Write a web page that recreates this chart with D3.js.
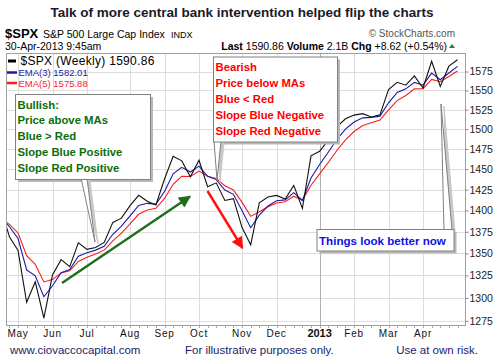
<!DOCTYPE html>
<html>
<head>
<meta charset="utf-8">
<script src="https://cdn.jsdelivr.net/npm/d3@7"></script>
<style>
  body { margin: 0; background: #fff; }
  svg { display: block; font-family: Arial, "Liberation Sans", sans-serif; }
</style>
</head>
<body>
<div id="wrapper"></div>
<script>
// weekly closes of $SPX, week ending dates
const weeks = ["2012-04-27","2012-05-04","2012-05-11","2012-05-18","2012-05-25","2012-06-01","2012-06-08","2012-06-15","2012-06-22","2012-06-29",
  "2012-07-06","2012-07-13","2012-07-20","2012-07-27","2012-08-03","2012-08-10","2012-08-17","2012-08-24","2012-08-31","2012-09-07",
  "2012-09-14","2012-09-21","2012-09-28","2012-10-05","2012-10-12","2012-10-19","2012-10-26","2012-11-02","2012-11-09","2012-11-16",
  "2012-11-23","2012-11-30","2012-12-07","2012-12-14","2012-12-21","2012-12-28","2013-01-04","2013-01-11","2013-01-18","2013-01-25",
  "2013-02-01","2013-02-08","2013-02-15","2013-02-22","2013-03-01","2013-03-08","2013-03-15","2013-03-22","2013-03-28","2013-04-05",
  "2013-04-12","2013-04-19","2013-04-26","2013-04-30"];
const close = [1403.36,1369.10,1353.39,1295.22,1317.82,1278.04,1325.66,1342.84,1335.02,1362.16,
  1354.68,1356.78,1362.66,1385.97,1390.99,1405.87,1418.16,1411.13,1406.58,1437.92,
  1465.77,1460.15,1440.67,1460.93,1428.59,1433.19,1411.94,1414.20,1379.85,1359.88,
  1409.15,1416.18,1418.07,1413.58,1430.15,1402.43,1466.47,1472.05,1485.98,1502.96,
  1513.17,1517.93,1519.79,1515.60,1518.20,1551.18,1560.70,1556.89,1569.19,1553.28,
  1588.85,1555.25,1582.24,1590.86];
const ema3 = [1392.59,1380.84,1367.12,1331.17,1324.50,1301.27,1313.47,1328.16,1331.59,1346.88,
  1350.78,1353.78,1358.22,1372.10,1381.55,1393.71,1405.94,1408.54,1407.56,1422.74,
  1444.26,1452.21,1446.44,1453.69,1441.14,1437.17,1424.56,1419.38,1399.62,1379.75,
  1394.45,1405.32,1411.70,1412.64,1421.40,1411.92,1439.20,1455.63,1470.81,1486.89,
  1500.03,1508.98,1514.39,1515.00,1516.60,1533.89,1547.30,1552.10,1560.65,1556.97,
  1572.91,1564.08,1573.16,1582.01];
const ema5 = [1390.99,1383.69,1373.59,1347.47,1337.59,1317.74,1320.38,1327.87,1330.25,1340.89,
  1345.49,1349.25,1353.72,1364.47,1373.31,1384.16,1395.49,1400.70,1402.66,1414.41,
  1431.53,1441.07,1440.94,1447.60,1441.26,1438.57,1429.69,1424.53,1409.64,1393.05,
  1398.42,1404.34,1408.92,1410.47,1417.03,1412.16,1430.26,1444.19,1458.12,1473.07,
  1486.44,1496.94,1504.56,1508.24,1511.56,1524.77,1536.75,1543.46,1552.04,1552.45,
  1564.58,1561.47,1568.39,1575.88];

// first weekly bar of each month
const monthWeek = [2, 6, 10, 15, 19, 23, 28, 32, 37, 41, 45, 49];
const monthLabels = ["May","Jun","Jul","Aug","Sep","Oct","Nov","Dec","2013","Feb","Mar","Apr"];
const yTicks = [1275,1300,1325,1350,1375,1400,1425,1450,1475,1500,1525,1550,1575];

const bullText = ["Bullish:", "Price above MAs", "Blue > Red", "Slope Blue Positive", "Slope Red Positive"];
const bearText = ["Bearish", "Price below MAs", "Blue < Red", "Slope Blue Negative", "Slope Red Negative"];

const W = 497, H = 362;
const plot = {left: 6, right: 465, top: 53, bottom: 325};

const svg = d3.select("#wrapper").append("svg")
  .attr("width", W).attr("height", H);

const x = d3.scaleLinear().domain([0.6035, 53.87]).range([plot.left, plot.right]);
const y = d3.scaleLog().domain([1270.5, 1600]).range([plot.bottom, plot.top]);

// title + header
svg.append("text").attr("x", 242).attr("y", 17).attr("text-anchor", "middle")
  .style("font-weight", "bold").style("font-size", "13.5px").attr("fill", "#1a1a2a")
  .text("Talk of more central bank intervention helped flip the charts");

svg.append("text").attr("x", 5).attr("y", 38).style("font-weight", "bold").style("font-size", "13px")
  .text("$SPX");
svg.append("text").attr("x", 43).attr("y", 38).style("font-size", "10.5px").text("S&P 500 Large Cap Index");
svg.append("text").attr("x", 171).attr("y", 38).style("font-size", "9px").text("INDX");
svg.append("text").attr("x", 455).attr("y", 37).attr("text-anchor", "end").style("font-size", "10px")
  .attr("fill", "#555").text("\u00A9 StockCharts.com");
svg.append("text").attr("x", 5).attr("y", 50).style("font-size", "10.5px").text("30-Apr-2013 9:45am");

const info = svg.append("text").attr("x", 447).attr("y", 50).attr("text-anchor", "end").style("font-size", "10.5px");
info.append("tspan").style("font-weight", "bold").text("Last");
info.append("tspan").text(" 1590.86  ");
info.append("tspan").style("font-weight", "bold").text("Volume");
info.append("tspan").text(" 2.1B  ");
info.append("tspan").style("font-weight", "bold").text("Chg");
info.append("tspan").text(" +8.62 (+0.54%)");
svg.append("path").attr("d", "M449,48 L455,48 L452,44 Z").attr("fill", "#2e7d32");

// grid
const grid = svg.append("g");
grid.selectAll("line.h").data(yTicks.concat([1600])).enter().append("line")
  .attr("x1", plot.left).attr("x2", plot.right)
  .attr("y1", d => Math.round(y(d)) + 0.5).attr("y2", d => Math.round(y(d)) + 0.5)
  .attr("stroke", "#dcdcdc");
grid.selectAll("line.v").data(monthWeek).enter().append("line")
  .attr("x1", d => Math.round(x(d)) + 0.5).attr("x2", d => Math.round(x(d)) + 0.5)
  .attr("y1", plot.top).attr("y2", plot.bottom)
  .attr("stroke", (d, i) => monthLabels[i] === "2013" ? "#b0b0b0" : "#dcdcdc");

svg.append("rect").attr("x", plot.left + 0.5).attr("y", plot.top + 0.5)
  .attr("width", plot.right - plot.left).attr("height", plot.bottom - plot.top)
  .attr("fill", "none").attr("stroke", "#a0a0a0");

// right axis
const yAxis = d3.axisRight(y).tickValues(yTicks).tickSize(3).tickFormat(d3.format("d"));
const ya = svg.append("g").attr("transform", `translate(${plot.right + 0.5},0)`).call(yAxis);
ya.select(".domain").remove();
ya.selectAll("line").attr("stroke", "#888");
ya.selectAll("text").style("font-size", "10.5px").attr("fill", "#222").attr("x", 4)
  .style("font-family", "Arial, 'Liberation Sans', sans-serif");

// bottom week ticks + month labels
svg.append("g").selectAll("line").data(d3.range(1, 54)).enter().append("line")
  .attr("x1", d => Math.round(x(d)) + 0.5).attr("x2", d => Math.round(x(d)) + 0.5)
  .attr("y1", plot.bottom + 1).attr("y2", plot.bottom + 3).attr("stroke", "#aaa");
svg.append("g").selectAll("text").data(monthWeek).enter().append("text")
  .attr("x", d => x(d)).attr("y", 337).attr("text-anchor", "middle")
  .style("font-size", (d, i) => monthLabels[i] === "2013" ? "11px" : "10px")
  .style("font-weight", (d, i) => monthLabels[i] === "2013" ? "bold" : "normal")
  .style("letter-spacing", (d, i) => monthLabels[i] === "2013" ? "0" : "0.8px")
  .attr("fill", "#111")
  .text((d, i) => monthLabels[i]);

// lines
svg.append("clipPath").attr("id", "clip").append("rect")
  .attr("x", plot.left + 1).attr("y", plot.top + 1)
  .attr("width", plot.right - plot.left - 1).attr("height", plot.bottom - plot.top - 1);
const lines = svg.append("g").attr("clip-path", "url(#clip)");
const series = [
  {vals: ema5, color: "#ff1a1a"},
  {vals: ema3, color: "#1a1aa0"},
  {vals: close, color: "#111"}
];
const line = d3.line().x((d, i) => x(i)).y(d => y(d));
lines.selectAll("path").data(series).enter().append("path")
  .attr("d", d => line(d.vals)).attr("fill", "none")
  .attr("stroke", d => d.color).attr("stroke-width", 1.1);

// legend
const legend = [
  {label: "$SPX (Weekly) 1590.86", color: "#000", y: 61, size: "12px", sw: 3},
  {label: "EMA(3) 1582.01", color: "#1a1aa0", y: 72.5, size: "9.5px", sw: 2.5},
  {label: "EMA(5) 1575.88", color: "#ff1a1a", y: 83, size: "9.5px", sw: 2.5}
];
legend.forEach((l, i) => {
  svg.append("line").attr("x1", i === 0 ? 8 : 7).attr("x2", i === 0 ? 16 : 17)
    .attr("y1", l.y).attr("y2", l.y).attr("stroke", l.color).attr("stroke-width", l.sw);
  svg.append("text").attr("x", i === 0 ? 20.5 : 18.5).attr("y", l.y + (i === 0 ? 4 : 3.5))
    .style("font-size", l.size).attr("fill", l.color)
    .style("letter-spacing", i === 0 ? "0.3px" : "0")
    .text(l.label);
});

// arrows
const defs = svg.append("defs");
[["g", "#1e6e1e"], ["r", "#ff1010"]].forEach(([id, c]) => {
  defs.append("marker").attr("id", "arr" + id).attr("viewBox", "0 0 10 10")
    .attr("refX", 9).attr("refY", 5).attr("markerWidth", 5.5).attr("markerHeight", 5)
    .attr("orient", "auto").attr("markerUnits", "strokeWidth")
    .append("path").attr("d", "M0,0 L10,5 L0,10 Z").attr("fill", c);
});
svg.append("line").attr("x1", 62).attr("y1", 283).attr("x2", 190).attr("y2", 196.5)
  .attr("stroke", "#1e6e1e").attr("stroke-width", 2.4).attr("marker-end", "url(#arrg)");
svg.append("line").attr("x1", 207.5).attr("y1", 191).attr("x2", 242.5).attr("y2", 248)
  .attr("stroke", "#ff1010").attr("stroke-width", 2.4).attr("marker-end", "url(#arrr)");

// callouts
function callout(box, tail, textLines, color, size, step) {
  const g = svg.append("g");
  const tailPts = tail.map(p => p.join(",")).join(" ");
  const sh = tail.map(p => [p[0] + 3, p[1] + 2].join(",")).join(" ");
  g.append("rect").attr("x", box.x + 3).attr("y", box.y + 3).attr("width", box.w).attr("height", box.h)
    .attr("fill", "#b8b8b8");
  g.append("polygon").attr("points", sh).attr("fill", "#c8c8c8").attr("stroke", "#c8c8c8");
  g.append("polygon").attr("points", tailPts).attr("fill", "#fff").attr("stroke", "#808080");
  g.append("rect").attr("x", box.x + 0.5).attr("y", box.y + 0.5).attr("width", box.w).attr("height", box.h)
    .attr("fill", "#fff").attr("stroke", "#808080");
  g.selectAll("text").data(textLines).enter().append("text")
    .attr("x", box.x + 2.5).attr("y", (d, i) => box.ty + i * step)
    .style("font-weight", "bold").style("font-size", size).attr("fill", color)
    .text(d => d);
}
callout({x: 15, y: 94, w: 135, h: 85, ty: 108.5}, [[81, 178], [87, 178], [95, 242]],
  bullText, "#0a6e0a", "11.3px", 15.8);
callout({x: 213, y: 56.5, w: 124, h: 85, ty: 71}, [[214, 141], [221, 141], [217, 180]],
  bearText, "#ff0000", "11.3px", 16);
callout({x: 316.5, y: 229, w: 137, h: 21.5, ty: 244.5}, [[444, 230], [452, 230], [441, 104]],
  ["Things look better now"], "#1010e6", "11.6px", 0);

// footer
const foot = [
  {t: "www.ciovaccocapital.com", x: 10, a: "start"},
  {t: "For illustrative purposes only.", x: 185, a: "start"},
  {t: "Use at own risk.", x: 478, a: "end"}
];
svg.append("g").selectAll("text").data(foot).enter().append("text")
  .attr("x", d => d.x).attr("y", 354).attr("text-anchor", d => d.a)
  .style("font-size", "11.5px").attr("fill", "#1c1c6a").text(d => d.t);
</script>
</body>
</html>
